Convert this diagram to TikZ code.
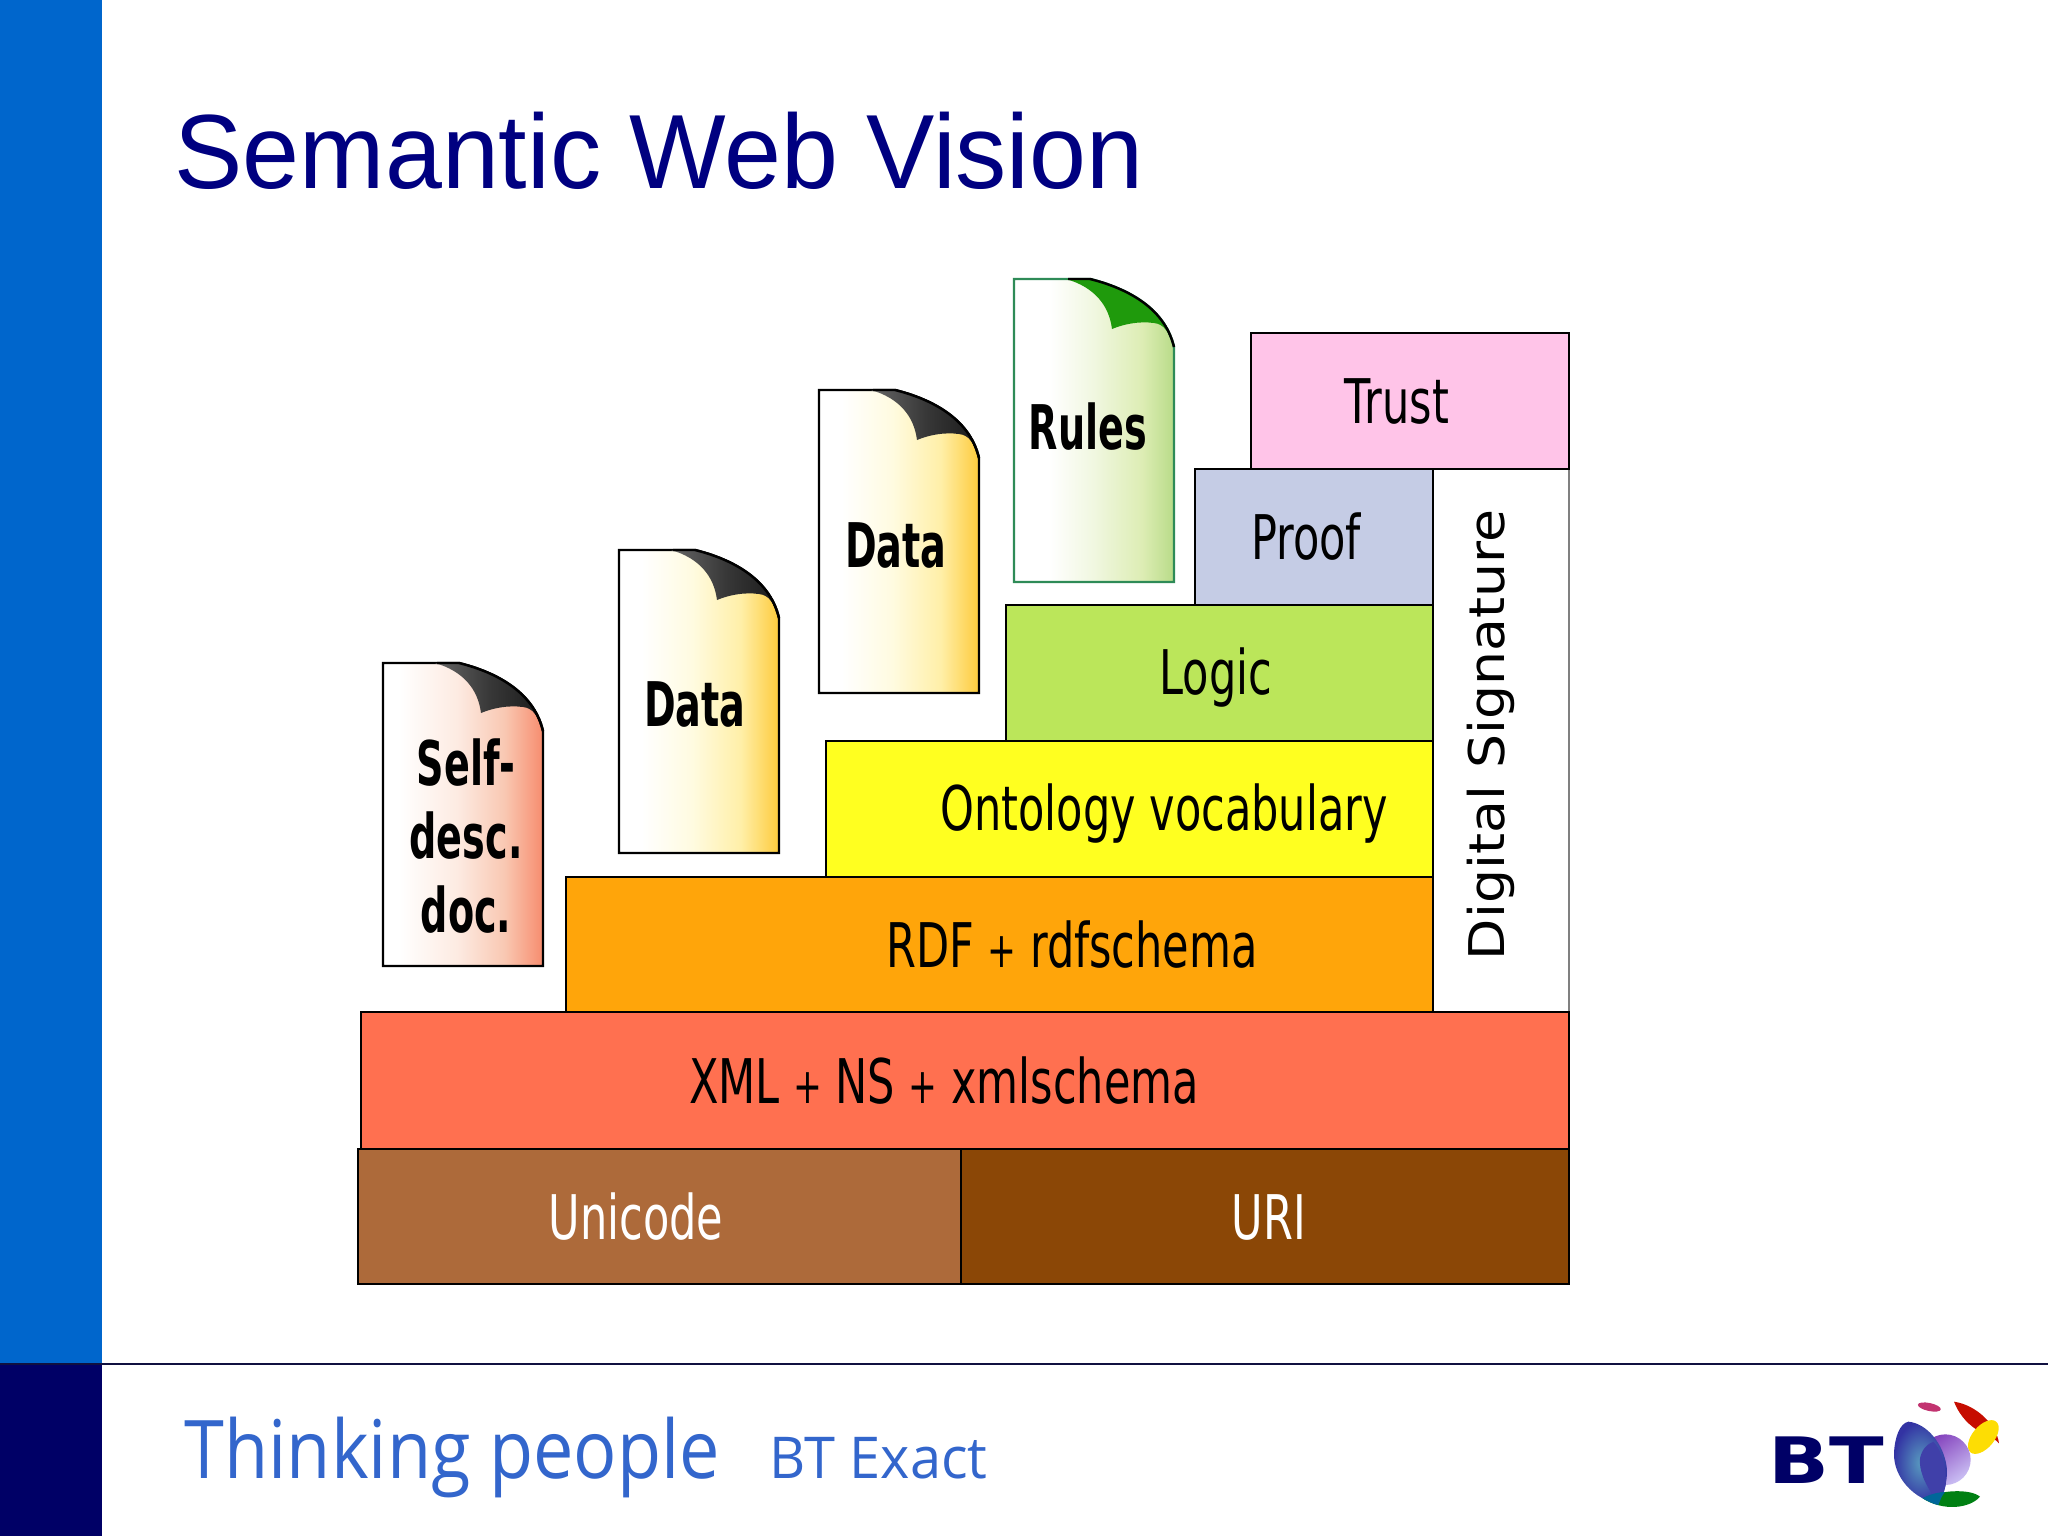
\documentclass[tikz,border=0pt]{standalone}
\usepackage{fontspec}
\setmainfont{Liberation Sans}
\newfontfamily\titlefont[FakeStretch=0.97]{Liberation Sans}
\newfontfamily\stepfont[FakeStretch=0.70]{DejaVu Sans}
\newfontfamily\sheetfont[FakeStretch=0.62]{DejaVu Sans}
\newfontfamily\signfont[FakeStretch=1.09]{DejaVu Sans}
\newfontfamily\thinkfont[FakeStretch=0.89]{Open Sans}
\newfontfamily\exactfont[FakeStretch=0.97]{Open Sans}
\newfontfamily\logofont[FakeStretch=1.25]{DejaVu Sans}
\definecolor{sidebarblue}{HTML}{0066CC}
\definecolor{sidebarnavy}{HTML}{000066}
\definecolor{rulenavy}{HTML}{101040}
\definecolor{titlenavy}{HTML}{000080}
\definecolor{footblue}{HTML}{3366CC}
\definecolor{unicodebrown}{HTML}{AD6A3A}
\definecolor{uribrown}{HTML}{8B4706}
\definecolor{xmlred}{HTML}{FF7050}
\definecolor{rdforange}{HTML}{FFA50A}
\definecolor{ontoyellow}{HTML}{FFFF20}
\definecolor{logicgreen}{HTML}{BBE65A}
\definecolor{proofblue}{HTML}{C5CCE5}
\definecolor{trustpink}{HTML}{FFC4E8}
\definecolor{rulesedge}{HTML}{2E8B57}
\definecolor{selfa}{HTML}{FDEBE2}
\definecolor{selfb}{HTML}{F9C8B2}
\definecolor{selfc}{HTML}{F78C6E}
\definecolor{dataa}{HTML}{FFFBE0}
\definecolor{datab}{HTML}{FFEFA8}
\definecolor{datac}{HTML}{FDCB3C}
\definecolor{rulesa}{HTML}{F0F7E0}
\definecolor{rulesb}{HTML}{DDEDB4}
\definecolor{rulesc}{HTML}{B8DB88}
\definecolor{curlgreenfill}{HTML}{1F9A0C}
\pgfdeclarehorizontalshading{selfshade}{100bp}{color(0bp)=(white); color(30bp)=(white); color(48bp)=(selfa); color(63bp)=(selfb); color(75bp)=(selfc); color(100bp)=(selfc)}
\pgfdeclarehorizontalshading{datashade}{100bp}{color(0bp)=(white); color(32bp)=(white); color(48bp)=(dataa); color(63bp)=(datab); color(75bp)=(datac); color(100bp)=(datac)}
\pgfdeclarehorizontalshading{rulesshade}{100bp}{color(0bp)=(white); color(36bp)=(white); color(50bp)=(rulesa); color(65bp)=(rulesb); color(75bp)=(rulesc); color(100bp)=(rulesc)}
\pgfdeclarehorizontalshading{curlgrey}{100bp}{color(0bp)=(black!60); color(25bp)=(black!60); color(50bp)=(black!78); color(75bp)=(black!90); color(100bp)=(black!90)}
\pgfdeclarehorizontalshading{curlgreen}{100bp}{color(0bp)=(curlgreenfill); color(100bp)=(curlgreenfill)}
\tikzset{
	stepline/.style={draw=black,line width=0.7pt},
	steplabel/.style={font=\stepfont\fontsize{17.5}{21}\selectfont,inner sep=0pt},
	sheetlabel/.style={font=\sheetfont\bfseries\fontsize{17.5}{20.8}\selectfont,inner sep=0pt,align=center},
}
\newcommand{\stepplus}{\hspace{0.22em}{\fontsize{14}{14}\selectfont +}\hspace{0.22em}}
% x: left top, y: left top, sheet shading, edge colour, curl shading
\newcommand{\docsheet}[5]{
	\begin{scope}[shift={(#1,#2)}]
		\path[shading=#3,draw=#4,line width=0.7pt] (0,0)--(76,0)
			.. controls (108,8) and (150,26) .. (160,68)--(160,303)--(0,303)--cycle;
		\path[shading=#5] (52,0)--(76,0) .. controls (108,8) and (150,26) .. (160,68)
			.. controls (155,53) and (150,45) .. (140,44)
			.. controls (125,42) and (110,45) .. (98,50)
			.. controls (95,26) and (80,8) .. (52,0)--cycle;
		\draw[black,line width=0.7pt] (54,0)--(76,0) .. controls (108,8) and (150,26) .. (160,68);
	\end{scope}
}
\begin{document}
\begin{tikzpicture}[x=0.01cm,y=-0.01cm]
	\useasboundingbox (0,0) rectangle (2048,1536);
	%sidebar
	\fill[sidebarblue] (0,0) rectangle (102,1364);
	\fill[sidebarnavy] (0,1364) rectangle (102,1536);
	\draw[rulenavy,line width=0.7pt] (0,1364)--(2048,1364);
	%title
	\node[anchor=base west,inner sep=0pt,text=titlenavy,font=\titlefont\fontsize{30}{36}\selectfont] (title) at (174,188) {Semantic Web Vision};
	%sheets
	\docsheet{383}{663}{selfshade}{black}{curlgrey}
	\docsheet{619}{550}{datashade}{black}{curlgrey}
	\docsheet{819}{390}{datashade}{black}{curlgrey}
	\docsheet{1014}{279}{rulesshade}{rulesedge}{curlgreen}
	\node[sheetlabel] (self) at (466,836) {Self-\\desc.\\doc.};
	\node[sheetlabel] (dataA) at (695,704) {Data};
	\node[sheetlabel] (dataB) at (896,545) {Data};
	\node[sheetlabel] (rules) at (1088,427) {Rules};
	%steps
	\fill[white] (1433,469) rectangle (1569,1012);
	\draw[gray,line width=0.6pt] (1569,469)--(1569,1012);
	\draw[stepline] (1433,469)--(1433,1012);
	\draw[stepline,fill=trustpink] (1251,333) rectangle (1569,469);
	\draw[stepline,fill=proofblue] (1195,469) rectangle (1433,605);
	\draw[stepline,fill=logicgreen] (1006,605) rectangle (1433,741);
	\draw[stepline,fill=ontoyellow] (826,741) rectangle (1433,877);
	\draw[stepline,fill=rdforange] (566,877) rectangle (1433,1012);
	\draw[stepline,fill=xmlred] (361,1012) rectangle (1569,1149);
	\draw[stepline,fill=unicodebrown] (358,1149) rectangle (961,1284);
	\draw[stepline,fill=uribrown] (961,1149) rectangle (1569,1284);
	\node[steplabel] (trust) at (1397,401) {Trust};
	\node[steplabel] (proof) at (1306,537) {Proof};
	\node[steplabel] (logic) at (1216,678) {Logic};
	\node[steplabel] (onto) at (1164,814) {Ontology vocabulary};
	\node[steplabel] (rdf) at (1072,945) {RDF\stepplus rdfschema};
	\node[steplabel] (xml) at (944,1081) {XML\stepplus NS\stepplus xmlschema};
	\node[steplabel,text=white] (unicode) at (636,1217) {Unicode};
	\node[steplabel,text=white] (uri) at (1269,1217) {URI};
	\node[inner sep=0pt,rotate=90,font=\signfont\fontsize{14}{17}\selectfont] (sign) at (1491,735) {Digital Signature};
	%footer
	\node[anchor=base west,inner sep=0pt,text=footblue,font=\thinkfont\fontsize{23}{27}\selectfont] (think) at (184,1478) {Thinking people};
	\node[anchor=base west,inner sep=0pt,text=footblue,font=\exactfont\fontsize{16.4}{20}\selectfont] (exact) at (769,1478) {BT Exact};
	%logo
	\node[anchor=base west,inner sep=0pt,text=sidebarnavy,font=\logofont\bfseries\fontsize{18.2}{20}\selectfont] (bt) at (1768,1483) {BT};
	\begin{scope}[shift={(1700,1370)},scale=1/3]
		\fill[red!70!blue!80!white,rotate around={-12:(688,111)}] (688,111) ellipse (35 and 12);
		\fill[red!75!black!90!orange] (762,95) .. controls (830,105) and (890,165) .. (897,220)
			.. controls (880,195) and (800,190) .. (762,95)--cycle;
		\fill[yellow!80!orange,rotate around={50:(850,201)}] (850,201) ellipse (60 and 33);
		\shade[left color=violet!70!blue!75!white,right color=violet!35!blue!25!white,shading angle=35] (736,269) circle (76);
		\shade[inner color=blue!35!cyan!45!gray!90,outer color=blue!55!black!80!white] (625,155)
			.. controls (680,160) and (730,220) .. (740,290)
			.. controls (745,340) and (725,380) .. (720,402)
			.. controls (640,390) and (580,320) .. (582,250)
			.. controls (584,200) and (600,160) .. (625,155)--cycle;
		\fill[blue!55!black!75!white] (700,215) .. controls (725,240) and (740,290) .. (737,345)
			.. controls (730,375) and (725,385) .. (720,402)
			.. controls (690,370) and (655,310) .. (660,265)
			.. controls (665,240) and (680,222) .. (700,215)--cycle;
		\fill[green!50!black!85!teal] (668,385) .. controls (720,360) and (810,355) .. (840,380)
			.. controls (810,415) and (730,425) .. (668,385)--cycle;
		\fill[teal!80!blue] (668,385) .. controls (690,372) and (715,367) .. (735,366)
			.. controls (720,385) and (720,395) .. (715,405)
			.. controls (700,402) and (685,395) .. (668,385)--cycle;
	\end{scope}
\end{tikzpicture}
\end{document}
